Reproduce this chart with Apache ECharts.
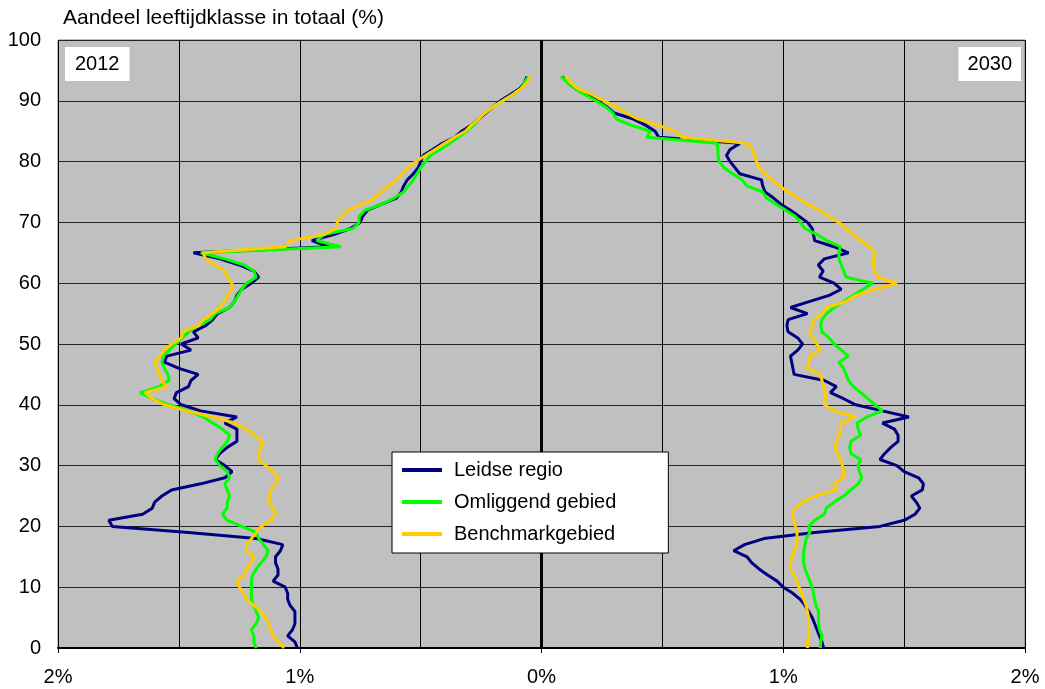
<!DOCTYPE html>
<html>
<head>
<meta charset="utf-8">
<script src="https://cdn.jsdelivr.net/npm/echarts@6/dist/echarts.min.js"></script>
<style>html,body{margin:0;padding:0;background:#fff}#c{width:1045px;height:689px}</style>
</head>
<body>
<div id="c"></div>
<script>
// ages 0..94 (one value per age)
const ages = Array.from({length: 95}, (_, i) => i);
const seriesNames = ['Leidse regio', 'Omliggend gebied', 'Benchmarkgebied'];
const colors = ['#000080', '#00ff00', '#ffcc00'];
const xTickLabels = ['2%', '1%', '0%', '1%', '2%'];
const yTicks = [0, 10, 20, 30, 40, 50, 60, 70, 80, 90, 100];

// 2012 (left side), share in %
const leidse2012 = [
 1.01,1.02,1.05,1.03,1.02,1.02,1.02,1.04,1.05,1.05,
 1.06,1.11,1.09,1.09,1.10,1.10,1.08,1.07,1.18,1.46,
 1.775,1.79,1.65,1.61,1.60,1.57,1.53,1.41,1.31,1.28,
 1.31,1.35,1.33,1.30,1.26,1.26,1.26,1.31,1.26,1.41,
 1.49,1.52,1.51,1.46,1.45,1.42,1.50,1.56,1.55,1.45,
 1.49,1.42,1.44,1.39,1.36,1.34,1.29,1.27,1.26,1.24,
 1.20,1.17,1.19,1.25,1.33,1.44,0.88,0.95,0.86,0.79,
 0.75,0.74,0.72,0.66,0.60,0.58,0.57,0.555,0.53,0.51,
 0.50,0.49,0.45,0.41,0.36,0.33,0.29,0.26,0.23,0.20,
 0.17,0.13,0.09,0.07,0.06];
const omliggend2012 = [
 1.18,1.19,1.19,1.20,1.18,1.17,1.18,1.19,1.20,1.20,
 1.20,1.20,1.195,1.18,1.16,1.14,1.13,1.15,1.17,1.18,
 1.24,1.30,1.32,1.30,1.30,1.29,1.30,1.31,1.29,1.30,
 1.33,1.35,1.34,1.32,1.30,1.29,1.32,1.36,1.40,1.46,
 1.54,1.61,1.66,1.58,1.54,1.545,1.56,1.57,1.565,1.54,
 1.515,1.485,1.46,1.42,1.37,1.35,1.29,1.27,1.255,1.24,
 1.22,1.18,1.19,1.23,1.31,1.41,0.83,0.93,0.90,0.78,
 0.755,0.755,0.73,0.66,0.61,0.57,0.55,0.53,0.515,0.50,
 0.48,0.46,0.42,0.38,0.345,0.31,0.28,0.26,0.235,0.20,
 0.16,0.12,0.085,0.07,0.054];
const benchmark2012 = [
 1.065,1.09,1.11,1.12,1.13,1.14,1.16,1.19,1.22,1.23,
 1.25,1.26,1.23,1.22,1.20,1.19,1.22,1.22,1.20,1.18,
 1.16,1.12,1.10,1.11,1.13,1.125,1.12,1.10,1.09,1.11,
 1.14,1.17,1.17,1.16,1.155,1.19,1.22,1.27,1.36,1.47,
 1.56,1.61,1.64,1.55,1.57,1.58,1.59,1.60,1.58,1.56,
 1.53,1.49,1.485,1.42,1.40,1.36,1.33,1.31,1.30,1.28,
 1.28,1.30,1.31,1.35,1.39,1.40,1.06,1.04,0.90,0.85,
 0.845,0.83,0.80,0.74,0.69,0.665,0.63,0.60,0.575,0.555,
 0.52,0.48,0.44,0.40,0.36,0.315,0.29,0.26,0.235,0.20,
 0.16,0.12,0.085,0.06,0.045];

// 2030 (right side), share in %
const leidse2030 = [
 1.167,1.16,1.15,1.14,1.13,1.12,1.105,1.09,1.07,1.04,
 1.00,0.975,0.935,0.90,0.87,0.85,0.795,0.84,0.92,1.13,
 1.40,1.50,1.545,1.565,1.55,1.53,1.575,1.58,1.56,1.50,
 1.47,1.40,1.42,1.445,1.475,1.475,1.46,1.41,1.52,1.41,
 1.30,1.25,1.195,1.22,1.17,1.045,1.04,1.035,1.03,1.06,
 1.08,1.06,1.02,1.015,1.02,1.10,1.03,1.11,1.19,1.24,
 1.21,1.15,1.165,1.145,1.17,1.27,1.21,1.13,1.125,1.12,
 1.10,1.065,1.03,0.99,0.96,0.925,0.915,0.91,0.82,0.80,
 0.78,0.765,0.78,0.82,0.485,0.47,0.43,0.38,0.30,0.27,
 0.23,0.19,0.14,0.11,0.085];
const omliggend2030 = [
 1.153,1.155,1.16,1.15,1.146,1.146,1.146,1.135,1.13,1.125,
 1.12,1.11,1.10,1.09,1.085,1.084,1.085,1.09,1.095,1.11,
 1.105,1.13,1.17,1.178,1.21,1.25,1.28,1.31,1.325,1.315,
 1.31,1.32,1.28,1.275,1.28,1.32,1.31,1.305,1.346,1.41,
 1.38,1.35,1.32,1.29,1.27,1.26,1.25,1.23,1.27,1.24,
 1.21,1.19,1.16,1.155,1.16,1.18,1.21,1.25,1.29,1.33,
 1.37,1.26,1.25,1.24,1.23,1.23,1.236,1.18,1.14,1.09,
 1.07,1.05,1.01,0.97,0.93,0.915,0.85,0.83,0.79,0.755,
 0.735,0.73,0.73,0.726,0.435,0.45,0.37,0.31,0.295,0.265,
 0.225,0.18,0.14,0.11,0.08];
const benchmark2030 = [
 1.10,1.10,1.105,1.105,1.105,1.105,1.10,1.095,1.085,1.077,
 1.065,1.057,1.045,1.03,1.03,1.036,1.045,1.057,1.057,1.057,
 1.05,1.043,1.036,1.05,1.08,1.13,1.22,1.21,1.25,1.25,
 1.245,1.235,1.225,1.215,1.22,1.23,1.236,1.24,1.30,1.21,
 1.17,1.174,1.174,1.167,1.16,1.153,1.10,1.105,1.11,1.153,
 1.14,1.12,1.11,1.12,1.13,1.16,1.18,1.26,1.30,1.38,
 1.47,1.39,1.38,1.373,1.373,1.38,1.36,1.32,1.29,1.26,
 1.23,1.19,1.15,1.10,1.06,1.02,0.985,0.955,0.925,0.90,
 0.89,0.88,0.875,0.85,0.58,0.555,0.48,0.40,0.35,0.31,
 0.26,0.21,0.15,0.12,0.10];

const left = [leidse2012, omliggend2012, benchmark2012];
const right = [leidse2030, omliggend2030, benchmark2030];

const series = [];
for (let k = 0; k < 3; k++) {
  series.push({
    name: seriesNames[k], type: 'line', showSymbol: false, symbol: 'none',
    color: colors[k], lineStyle: {width: 3, color: colors[k]},
    data: ages.map((a, i) => [-left[k][i], a]), z: 3 + k
  });
  series.push({
    name: seriesNames[k], type: 'line', showSymbol: false, symbol: 'none',
    color: colors[k], lineStyle: {width: 3, color: colors[k]},
    data: ages.map((a, i) => [right[k][i], a]), z: 3 + k
  });
}
series[0].markLine = {
  silent: true, symbol: 'none', label: {show: false},
  lineStyle: {color: '#000', width: 3, type: 'solid'},
  data: [{xAxis: 0}]
};

const font = 'Liberation Sans, Arial, sans-serif';
const chart = echarts.init(document.getElementById('c'));
chart.setOption({
  animation: false,
  backgroundColor: '#ffffff',
  textStyle: {fontFamily: font},
  title: [
    {text: 'Aandeel leeftijdklasse in totaal (%)', left: 58, top: 3,
     textStyle: {fontSize: 21, fontWeight: 'normal', color: '#000', fontFamily: font}},
    {text: '2012', left: 65, top: 47, backgroundColor: '#fff', padding: [7, 10, 7, 10],
     textStyle: {fontSize: 20, fontWeight: 'normal', color: '#000', fontFamily: font}},
    {text: '2030', right: 24, top: 47, backgroundColor: '#fff', padding: [7, 9, 7, 9],
     textStyle: {fontSize: 20, fontWeight: 'normal', color: '#000', fontFamily: font}}
  ],
  legend: {
    orient: 'vertical', left: 392, top: 452, z: 20, zlevel: 0,
    backgroundColor: '#fff', borderColor: '#000', borderWidth: 1,
    padding: [8, 52, 9, 10], itemGap: 12, itemWidth: 40, itemHeight: 4,
    icon: 'rect',
    textStyle: {fontSize: 20, color: '#000', fontFamily: font, padding: [0, 0, 0, 7]},
    data: seriesNames
  },
  grid: {left: 58, right: 20, top: 40, bottom: 41, show: true,
         backgroundColor: '#c0c0c0', borderColor: '#808080', borderWidth: 1},
  xAxis: {
    type: 'value', min: -2, max: 2, interval: 1, splitNumber: 4,
    axisLine: {show: true, onZero: false, lineStyle: {color: '#000', width: 2}},
    axisTick: {show: true, length: 5, lineStyle: {color: '#000'}},
    axisLabel: {fontSize: 20, color: '#000', margin: 19, fontFamily: font,
      formatter: v => xTickLabels[Math.round(v) + 2]},
    splitLine: {show: true, lineStyle: {color: '#000', width: 1}},
    minorTick: {show: false, splitNumber: 2},
    minorSplitLine: {show: true, lineStyle: {color: '#000', width: 1}}
  },
  yAxis: {
    type: 'value', min: 0, max: 100, interval: 10,
    axisLine: {show: false}, axisTick: {show: false},
    axisLabel: {fontSize: 20, color: '#000', margin: 17, fontFamily: font,
      formatter: v => String(yTicks[Math.round(v / 10)])},
    splitLine: {show: true, lineStyle: {color: '#222', width: 1}}
  },
  series: series
});
</script>
</body>
</html>
